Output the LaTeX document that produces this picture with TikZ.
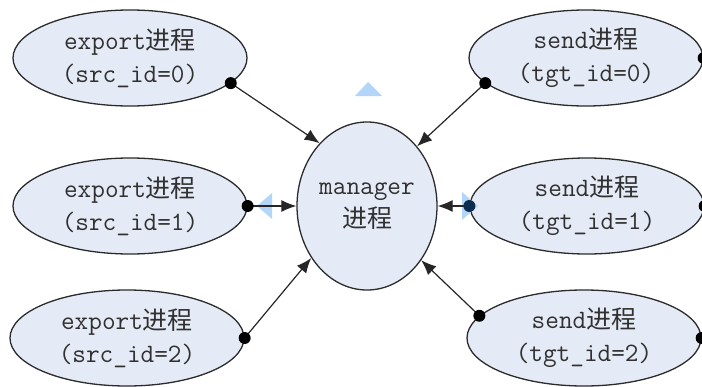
\documentclass[tikz,border=0pt]{standalone}
\usepackage{fontspec}
\newfontfamily\cjk{Noto Sans CJK SC}
\newcommand{\zh}[1]{{\cjk\fontsize{25}{33}\selectfont #1}}
\usetikzlibrary{shapes.geometric,arrows.meta}
\definecolor{ellfill}{HTML}{E5EBF6}
\definecolor{ellline}{HTML}{2B2B2B}
\definecolor{txt}{HTML}{303030}
\definecolor{tri}{HTML}{B3D5F7}
\definecolor{navy}{HTML}{0C2D4F}
\begin{document}
\begin{tikzpicture}[x=1pt,y=-1pt,
  proc/.style={ellipse, draw=ellline, line width=1.3pt, fill=ellfill, inner sep=0pt,
    minimum width=234pt, minimum height=96pt, align=center, text=txt,
    font=\fontsize{26.5}{33}\selectfont\ttfamily},
  mgrstyle/.style={proc, minimum width=140pt, minimum height=168pt},
  conn/.style={line width=1.2pt, draw=black!85, -{Latex[length=15pt,width=12pt]}},
  dotmark/.style={circle, fill=black, inner sep=0pt, minimum size=12pt},
  hint/.style={fill=tri, draw=none}]
\useasboundingbox (0,0) rectangle (702,386);
\clip (0,0) rectangle (702,386);

% nodes
\node[proc] (e0) at (130,58)  {export\zh{进程}\\(src\_id=0)};
\node[proc] (e1) at (130,206) {export\zh{进程}\\(src\_id=1)};
\node[proc] (e2) at (127,338) {export\zh{进程}\\(src\_id=2)};
\node[proc] (s0) at (586,58)  {send\zh{进程}\\(tgt\_id=0)};
\node[proc] (s1) at (587,206) {send\zh{进程}\\(tgt\_id=1)};
\node[proc] (s2) at (584,338) {send\zh{进程}\\(tgt\_id=2)};
\node[mgrstyle] (m) at (367,206) {manager\\\zh{进程}};

% light blue hint triangles
\fill[hint] (368,82) -- (382,96) -- (355,96) -- cycle;
\fill[hint] (257,206) -- (272,193) -- (272,219) -- cycle;
\fill[hint] (478,206) -- (462,192) -- (462,220) -- cycle;

% connectors
\draw[conn] (e0.-14) -- (m.127);
\draw[conn] (e1.east) -- (m.west);
\draw[conn] (e2.east) -- (m.223);
\draw[conn] (s0.-166.5) -- (m.50);
\draw[conn] (s1.west) -- (m.east);
\draw[conn] (s2.168) -- (m.-45);

% dots
\node[dotmark] (d0) at (e0.-14) {};
\node[dotmark] (d1) at (e1.east) {};
\node[dotmark] (d2) at (e2.east) {};
\node[dotmark] (t0) at (s0.-166.5) {};
\node[dotmark, fill=navy] (t1) at (s1.west) {};
\node[dotmark] (t2) at (s2.168) {};
\node[dotmark] (r0) at (s0.east) {};
\node[dotmark] (r1) at (s1.east) {};
\node[dotmark] (r2) at (s2.east) {};
\end{tikzpicture}
\end{document}
